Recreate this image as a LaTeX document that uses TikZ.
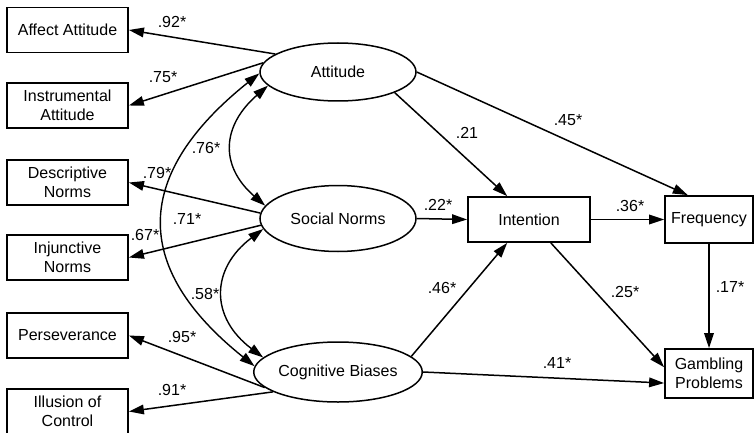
\documentclass[tikz,border=0pt]{standalone}
\usepackage{fontspec}
\setmainfont{Liberation Sans}
\usetikzlibrary{shapes.geometric, arrows.meta}

\tikzset{
  obs/.style={draw, line width=0.9pt, minimum width=60.5pt, minimum height=22.5pt,
    align=center, inner sep=1pt, font=\fontsize{8}{9.5}\selectfont},
  lat/.style={draw, ellipse, line width=0.75pt, minimum width=78pt, minimum height=30pt,
    inner sep=0pt, font=\fontsize{8}{9.5}\selectfont},
  pathar/.style={-{Triangle[length=7.5pt,width=4.8pt]}, line width=0.75pt},
  corr/.style={{Triangle[length=7.5pt,width=4.8pt]}-{Triangle[length=7.5pt,width=4.8pt]}, line width=0.7pt},
  coef/.style={font=\fontsize{8}{9.5}\selectfont, inner sep=0pt}
}

\begin{document}
\begin{tikzpicture}[x=0.5pt, y=-0.5pt]
  \useasboundingbox (0,0) rectangle (754,433);

  % indicators
  \node[obs] (aff) at (67.5,30) {Affect Attitude};
  \node[obs] (ins) at (67.5,105.5) {Instrumental\\Attitude};
  \node[obs] (des) at (67.5,182.5) {Descriptive\\Norms};
  \node[obs] (inj) at (67.5,257.5) {Injunctive\\Norms};
  \node[obs] (per) at (67.5,335.5) {Perseverance};
  \node[obs] (ill) at (67.5,411.5) {Illusion of\\Control};

  % latent factors
  \node[lat, minimum height=29pt] (att) at (338,72) {Attitude};
  \node[lat, minimum height=33pt] (soc) at (338,218.5) {Social Norms};
  \node[lat] (cog) at (338,372) {Cognitive Biases};

  % outcomes
  \node[obs, minimum width=61pt] (int) at (529,219.5) {Intention};
  \node[obs, minimum width=44pt, minimum height=23.5pt] (freq) at (709,219.5) {Frequency};
  \node[obs, minimum width=44pt, minimum height=24.5pt] (gamb) at (709,373.5) {Gambling\\Problems};

  % loadings
  \draw[pathar] (att.164) -- (aff.east);
  \draw[pathar] (att.173) -- (ins.east);
  \draw[pathar] (soc.176) -- (des.east);
  \draw[pathar] (soc.185) -- (inj.east);
  \draw[pathar] (cog.192) -- (per.east);
  \draw[pathar] (cog.197) -- (ill.east);

  % correlations
  \draw[corr] (att.191) .. controls +(-46,40) and +(-46,-40) .. (soc.170);
  \draw[corr] (soc.188) .. controls +(-53,40) and +(-53,-40) .. (cog.169);
  \draw[corr] (att.181) .. controls +(-125,100) and +(-125,-100) .. (cog.176);

  % structural paths
  \draw[pathar] (att.340) -- (int.133);
  \draw[pathar] (att.east) -- (freq.131);
  \draw[pathar] (soc.east) -- (int.west);
  \draw[pathar] (int.east) -- (freq.west);
  \draw[pathar] (cog.12) -- (int.227);
  \draw[pathar] (int.313) -- (gamb.172);
  \draw[pathar] (cog.east) -- (gamb.192);
  \draw[pathar] (freq.south) -- (gamb.north);

  % coefficients
  \node[coef] (c92) at (172,22) {.92*};
  \node[coef] (c75) at (163,77) {.75*};
  \node[coef] (c79) at (157,173) {.79*};
  \node[coef] (c67) at (145,235) {.67*};
  \node[coef] (c95) at (182,337) {.95*};
  \node[coef] (c91) at (172,390) {.91*};
  \node[coef] (c76) at (206,148) {.76*};
  \node[coef] (c71) at (187,219) {.71*};
  \node[coef] (c58) at (205,294) {.58*};
  \node[coef] (c21) at (467,133) {.21};
  \node[coef] (c45) at (568,120) {.45*};
  \node[coef] (c22) at (438,205) {.22*};
  \node[coef] (c36) at (630,206) {.36*};
  \node[coef] (c46) at (442,288) {.46*};
  \node[coef] (c25) at (625,292) {.25*};
  \node[coef] (c41) at (557,363) {.41*};
  \node[coef] (c17) at (730,287) {.17*};
\end{tikzpicture}
\end{document}
